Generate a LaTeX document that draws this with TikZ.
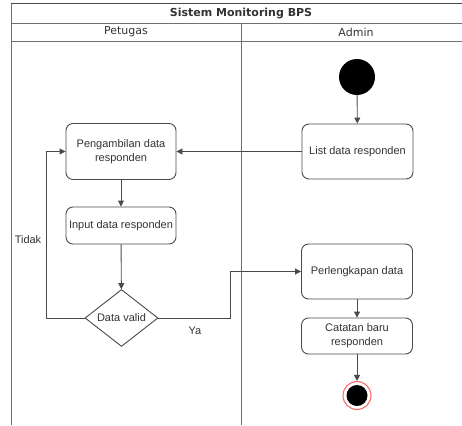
\documentclass[tikz,border=0pt]{standalone}
\usepackage{fontspec}
\setmainfont{Liberation Sans}
\newfontfamily\hdrfont{DejaVu Sans}
\usetikzlibrary{shapes.geometric,arrows.meta}
\definecolor{linec}{HTML}{4A4A4A}
\definecolor{lanec}{HTML}{707070}
\definecolor{txtc}{HTML}{333333}
\definecolor{endring}{HTML}{FF6B6B}

\begin{document}
\begin{tikzpicture}[x=1pt,y=-1pt,
  every node/.style={font=\fontsize{11}{14}\selectfont, text=txtc},
  act/.style={draw=linec, line width=0.9pt, rounded corners=7pt, fill=white,
    minimum width=111pt, align=center, inner sep=2pt},
  dec/.style={diamond, draw=linec, line width=0.9pt, fill=white,
    minimum width=73pt, minimum height=56pt, inner sep=0pt},
  flow/.style={draw=linec, line width=0.9pt, -{Triangle[length=6pt,width=6pt]}},
  lane/.style={draw=lanec, line width=0.9pt},
  hdr/.style={font=\hdrfont\fontsize{11}{13}\selectfont, text=txtc},
  ttl/.style={font=\hdrfont\bfseries\fontsize{11}{13}\selectfont, text=txtc},
  startst/.style={circle, fill=black, minimum size=36pt, inner sep=0pt},
  endst/.style={circle, draw=endring, line width=1.1pt, fill=white, minimum size=28pt, inner sep=0pt},
  endcore/.style={circle, fill=black, minimum size=21pt, inner sep=0pt}]

\useasboundingbox (0,0) rectangle (462,425);

% swimlane pool
\draw[lane] (11,425) -- (11,4);
\draw[linec, line width=1pt] (11,4) -- (462,4);
\draw[lane] (11,23) -- (462,23);
\draw[lane] (11,41) -- (462,41);
\draw[lane] (241,23) -- (241,425);

\node[ttl] (title) at (241,13.5) {Sistem Monitoring BPS};
\node[hdr] (petugas) at (126,32) {Petugas};
\node[hdr] (admin) at (356,32) {Admin};

% activities
\node[startst] (start) at (357,77) {};
\node[act, minimum height=55pt] (list) at (357.5,151.5) {List data responden};
\node[act, minimum height=56pt, minimum width=110pt] (ambil) at (121,151.5) {Pengambilan data\\responden};
\node[act, minimum height=37pt, minimum width=110pt] (input) at (121,225.5) {Input data responden};
\node[dec] (valid) at (121.5,318) {Data valid};
\node[act, minimum height=55pt] (lengkap) at (357,271.5) {Perlengkapan data};
\node[act, minimum height=36pt] (catat) at (357,336) {Catatan baru\\responden};
\node[endst] (end) at (357,395.5) {};
\node[endcore] (endin) at (end) {};

% flows
\draw[flow] (start) -- (list);
\draw[flow] (list) -- (ambil);
\draw[flow] (ambil) -- (input);
\draw[flow] (input) -- (valid);
\draw[flow] (valid.west) -- ++(-38,0) |- (ambil.west);
\draw[flow] (valid.east) -- ++(72,0) |- (lengkap.west);
\draw[flow] (lengkap) -- (catat);
\draw[flow] (catat) -- (end);

\node (tidak) at (28,240) {Tidak};
\node (ya) at (195,331) {Ya};
\end{tikzpicture}
\end{document}
